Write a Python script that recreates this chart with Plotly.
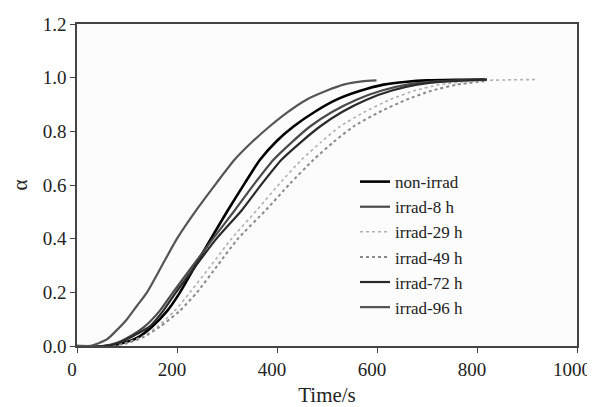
import plotly.graph_objects as go

# ---- data ----
names = ["non-irrad", "irrad-8 h", "irrad-29 h", "irrad-49 h", "irrad-72 h", "irrad-96 h"]

t_non = [0, 60, 90, 120, 150, 180, 206, 240, 268, 302, 335, 366, 400, 433, 475, 519, 565, 613, 660, 700, 760, 816]
a_non = [0, 0.0, 0.01, 0.03, 0.072, 0.13, 0.2, 0.31, 0.4, 0.507, 0.605, 0.694, 0.765, 0.818, 0.872, 0.918, 0.95, 0.974, 0.985, 0.99, 0.992, 0.993]

t_8 = [0, 50, 80, 110, 135, 165, 192, 232, 272, 316, 355, 393, 430, 466, 510, 559, 610, 660, 720, 820]
a_8 = [0, 0.0, 0.012, 0.04, 0.072, 0.13, 0.2, 0.3, 0.4, 0.507, 0.605, 0.694, 0.76, 0.818, 0.872, 0.918, 0.952, 0.974, 0.986, 0.993]

t_29 = [0, 60, 95, 130, 160, 195, 226, 268, 309, 360, 405, 449, 488, 526, 575, 626, 676, 726, 775, 820, 870, 916]
a_29 = [0, 0.0, 0.01, 0.035, 0.072, 0.13, 0.2, 0.3, 0.4, 0.507, 0.605, 0.694, 0.76, 0.818, 0.872, 0.918, 0.952, 0.974, 0.985, 0.99, 0.992, 0.993]

t_49 = [0, 65, 100, 135, 166, 205, 240, 281, 322, 378, 426, 473, 513, 553, 605, 659, 710, 760, 820]
a_49 = [0, 0.0, 0.01, 0.035, 0.072, 0.13, 0.2, 0.3, 0.4, 0.507, 0.605, 0.694, 0.76, 0.818, 0.872, 0.918, 0.952, 0.974, 0.988]

t_72 = [0, 55, 85, 115, 145, 172, 198, 238, 279, 330, 370, 409, 448, 486, 530, 579, 630, 680, 740, 820]
a_72 = [0, 0.0, 0.012, 0.04, 0.072, 0.13, 0.2, 0.3, 0.4, 0.507, 0.605, 0.694, 0.76, 0.818, 0.872, 0.918, 0.952, 0.974, 0.986, 0.993]

t_96 = [0, 30, 60, 80, 100, 120, 140, 170, 200, 240, 280, 315, 350, 385, 420, 459, 500, 533, 570, 599]
a_96 = [0, 0.002, 0.025, 0.06, 0.1, 0.15, 0.2, 0.3, 0.4, 0.51, 0.61, 0.694, 0.76, 0.818, 0.87, 0.918, 0.952, 0.974, 0.986, 0.99]

x_ticks = [0, 200, 400, 600, 800, 1000]
y_ticks = [0.0, 0.2, 0.4, 0.6, 0.8, 1.0, 1.2]
y_tick_text = ["0.0", "0.2", "0.4", "0.6", "0.8", "1.0", "1.2"]

series = [
    (names[0], t_non, a_non, dict(color="#000000", width=2.6)),
    (names[1], t_8, a_8, dict(color="#4a4a4a", width=2.2)),
    (names[2], t_29, a_29, dict(color="#b0b0b0", width=1.6, dash="dot")),
    (names[3], t_49, a_49, dict(color="#8a8a8a", width=2.0, dash="dot")),
    (names[4], t_72, a_72, dict(color="#2a2a2a", width=2.2)),
    (names[5], t_96, a_96, dict(color="#555555", width=2.2)),
]

FONT = "Liberation Serif"

fig = go.Figure()
for name, t, a, ln in series:
    fig.add_trace(go.Scatter(x=t, y=a, mode="lines", name=name,
                             line=dict(shape="spline", smoothing=0.6, **ln)))

# the page body adds an 8 px offset; sizes/margins compensate for it
fig.update_layout(
    width=595, height=399,
    margin=dict(l=69, r=26, t=16, b=61),
    paper_bgcolor="white", plot_bgcolor="#fcfcfc",
    font=dict(family=FONT, size=19, color="#222222"),
    showlegend=True,
    legend=dict(x=0.556, y=0.565, xanchor="left", yanchor="top",
                bgcolor="rgba(255,255,255,0)", font=dict(family=FONT, size=17, color="#222"),
                itemwidth=30, tracegroupgap=0),
)
fig.update_xaxes(range=[0, 1000], tickvals=x_ticks, ticks="outside", ticklen=5,
                 ticklabelshift=-5,
                 showline=True, linecolor="#444", linewidth=1.5, mirror=True,
                 showgrid=False, zeroline=False, automargin=False,
                 title=dict(text="Time/s", font=dict(family=FONT, size=21), standoff=12))
fig.update_yaxes(range=[0, 1.2], tickvals=y_ticks, ticktext=y_tick_text, ticks="outside", ticklen=5,
                 showline=True, linecolor="#444", linewidth=1.5, mirror=True,
                 showgrid=False, zeroline=False, automargin=False,
                 title=dict(text="α", font=dict(family=FONT, size=21), standoff=16))

fig.write_html("out.html")
